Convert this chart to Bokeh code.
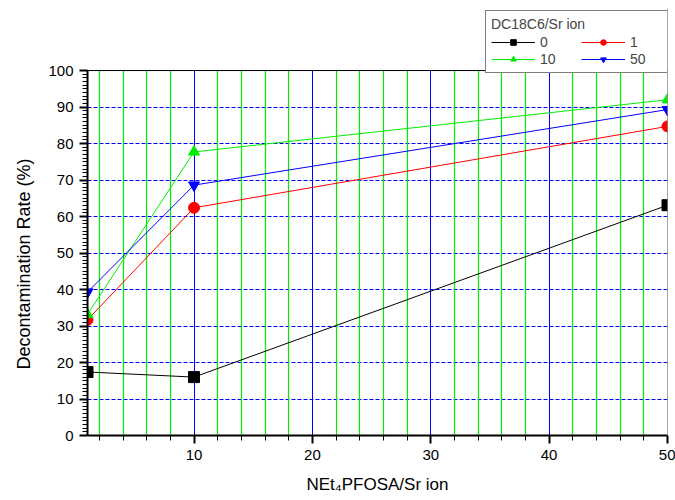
from bokeh.plotting import figure
from bokeh.models import (Range1d, SingleIntervalTicker, FixedTicker, Grid,
                          Legend, LegendItem, Span, Title)
from bokeh.embed import file_html
from bokeh.resources import INLINE

x_vals = [1, 10, 50]
series_names = ["0", "1", "10", "50"]
y_0 = [17.4, 16.0, 63.1]
y_1 = [31.7, 62.4, 84.7]
y_10 = [33.2, 77.7, 92.0]
y_50 = [39.3, 68.6, 89.3]
series_values = [y_0, y_1, y_10, y_50]
colors = ["black", "red", "#00ee00", "blue"]
markers = ["square", "circle", "triangle", "inverted_triangle"]

X_START, X_END = 1, 50
Y_START, Y_END = 0, 100
Y_VIEW_TOP = 117   # extra room above the axes for the legend box
x_major_ticks = [10, 20, 30, 40, 50]
x_minor_ticks = [v for v in range(2, 50, 2) if v % 10 != 0]

FONT = "Liberation Sans"

p = figure(width=675, height=500, output_backend="svg", toolbar_location=None,
           x_range=Range1d(X_START, X_END), y_range=Range1d(Y_START, Y_VIEW_TOP),
           min_border_left=87, min_border_right=8, min_border_bottom=65,
           min_border_top=8)

p.background_fill_color = "white"
p.outline_line_color = None

p.xaxis.ticker = SingleIntervalTicker(interval=10, num_minor_ticks=5)
p.yaxis.ticker = SingleIntervalTicker(interval=10, num_minor_ticks=10)
p.yaxis.bounds = (Y_START, Y_END)
for ax in (p.xaxis[0], p.yaxis[0]):
    ax.axis_line_width = 2
    ax.axis_line_color = "black"
    ax.major_tick_line_width = 2
    ax.minor_tick_line_width = 1
    ax.major_tick_in = 0
    ax.minor_tick_in = 0
    ax.major_tick_out = 8
    ax.minor_tick_out = 5
    ax.major_label_text_font = FONT
    ax.major_label_text_font_size = "15px"
    ax.major_label_text_color = "black"
    ax.axis_label_text_font = FONT
    ax.axis_label_text_font_size = "17px"
    ax.axis_label_text_font_style = "normal"
    ax.axis_label_text_color = "black"
    ax.major_label_standoff = 6
p.xaxis.axis_label = "NEt\u2084PFOSA/Sr ion"
p.xaxis.axis_label_standoff = 12

# y-axis title, placed along the 0..100 part of the axis
ytitle = Title(text="Decontamination Rate (%)", align="left", offset=66,
               text_font=FONT, text_font_size="18px", text_font_style="normal",
               text_color="black", standoff=23)
p.add_layout(ytitle, "left")

# grids
p.xgrid.visible = False
minor_grid = Grid(dimension=0, ticker=FixedTicker(ticks=x_minor_ticks),
                  grid_line_color="#00ee00", grid_line_width=1.2,
                  cross_bounds=(Y_START, Y_END), level="underlay")
major_grid = Grid(dimension=0, ticker=FixedTicker(ticks=x_major_ticks),
                  grid_line_color="#0000ff", grid_line_width=1,
                  cross_bounds=(Y_START, Y_END), level="underlay")
p.add_layout(minor_grid)
p.add_layout(major_grid)
p.ygrid.grid_line_color = "blue"
p.ygrid.grid_line_width = 1
p.ygrid.grid_line_dash = "4 2"
p.ygrid.bounds = (Y_START, Y_END)

# frame lines at top (y=100) and right (x=50)
p.add_layout(Span(location=Y_END, dimension="width", line_color="black", line_width=1))
p.add_layout(Span(location=X_END, dimension="height", line_color="#555555", line_width=1))

items = {}
for name, ys, c, m in zip(series_names, series_values, colors, markers):
    ln = p.line(x_vals, ys, line_color=c, line_width=1)
    sc = p.scatter(x_vals, ys, marker=m, size=11, fill_color=c, line_color=c)
    items[name] = LegendItem(label=name, renderers=[ln, sc])

# column-major fill: rows read "0 1" / "10 50"
ordered = [items["0"], items["10"], items["1"], items["50"]]
legend = Legend(items=ordered, ncols=2, title="DC18C6/Sr ion",
                location=(398, 362))
legend.title_text_font = FONT
legend.title_text_font_size = "14px"
legend.title_text_font_style = "normal"
legend.title_standoff = 2
legend.label_text_font = FONT
legend.label_text_font_size = "14px"
legend.glyph_width = 44
legend.glyph_height = 14
legend.label_standoff = 5
legend.label_width = 40
legend.spacing = 1
legend.padding = 5
legend.margin = 0
legend.border_line_color = "black"
legend.border_line_width = 1
legend.background_fill_color = "white"
legend.background_fill_alpha = 1
p.add_layout(legend, "center")

open("out.html", "w").write(file_html(p, INLINE))
